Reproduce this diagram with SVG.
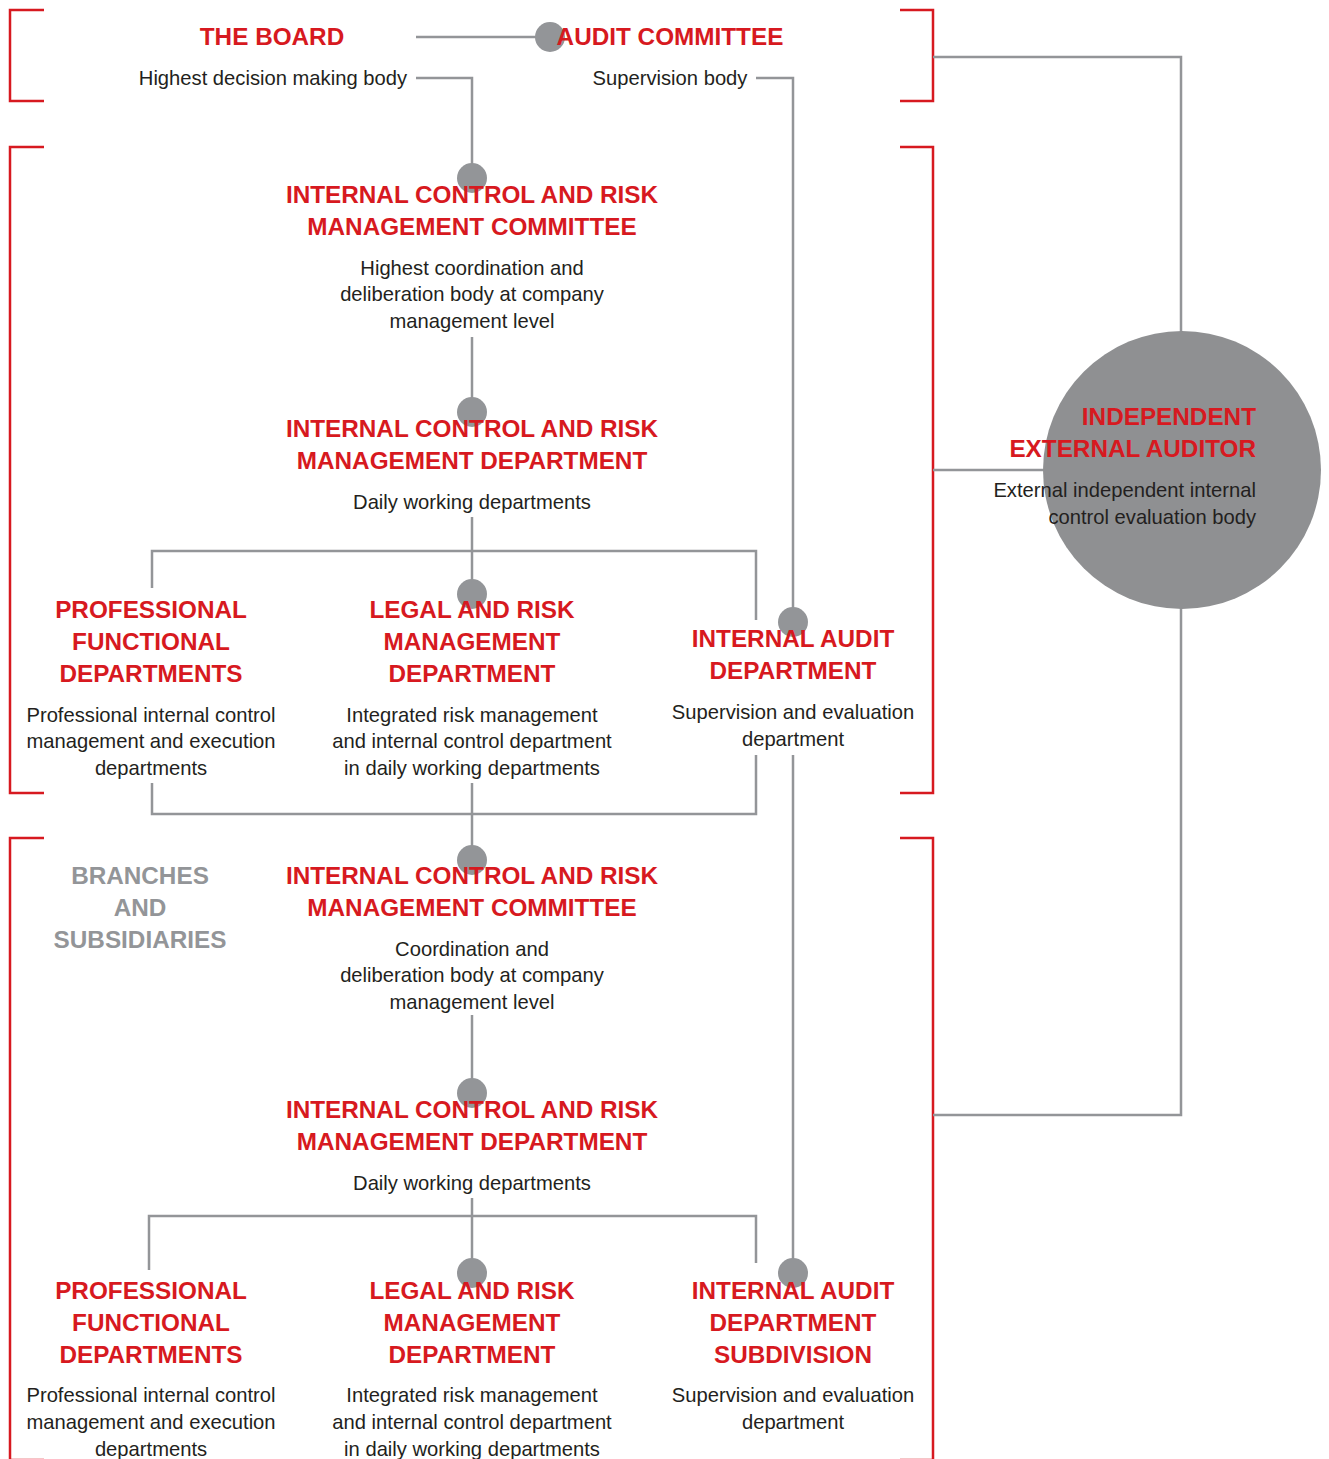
<svg xmlns="http://www.w3.org/2000/svg" width="1329" height="1459" viewBox="0 0 1329 1459">
<style>
.br{fill:none;stroke:#d71920;stroke-width:2.5}
.cn{fill:none;stroke:#939598;stroke-width:2.5}
.dot{fill:#939598}
.h{font-family:"Liberation Sans",Arial,sans-serif;font-weight:bold;font-size:24.3px;fill:#d71920;text-anchor:middle}
.g{fill:#939598}
.b{font-family:"Liberation Sans",Arial,sans-serif;font-size:20.2px;fill:#231f20;text-anchor:middle}
.e{text-anchor:end}
</style>
<rect width="1329" height="1459" fill="#fff"/>
<g id="brackets">
<path class="br" d="M44 10H10V101H44"/>
<path class="br" d="M900 10H933V101H900"/>
<path class="br" d="M44 147H10V793H44"/>
<path class="br" d="M900 147H933V793H900"/>
<path class="br" d="M44 838H10V1460H44"/>
<path class="br" d="M900 838H933V1460H900"/>
</g>
<g id="connectors">
<path class="cn" d="M416 37H540"/>
<path class="cn" d="M416 78H472V178"/>
<path class="cn" d="M756 78H793V622"/>
<path class="cn" d="M472 337V412"/>
<path class="cn" d="M472 517V594"/>
<path class="cn" d="M152 588V551H756V620"/>
<path class="cn" d="M152 783V814H756V755"/>
<path class="cn" d="M472 783V860"/>
<path class="cn" d="M793 755V1273"/>
<path class="cn" d="M472 1015V1093"/>
<path class="cn" d="M472 1198V1273"/>
<path class="cn" d="M149 1270V1216H756V1263"/>
<path class="cn" d="M933 57H1181V340"/>
<path class="cn" d="M933 470H1060"/>
<path class="cn" d="M1181 600V1115H933"/>
</g>
<g id="dots">
<circle class="dot" cx="550" cy="37" r="15"/>
<circle class="dot" cx="472" cy="178" r="15"/>
<circle class="dot" cx="472" cy="412" r="15"/>
<circle class="dot" cx="472" cy="594" r="15"/>
<circle class="dot" cx="793" cy="622" r="15"/>
<circle class="dot" cx="472" cy="860" r="15"/>
<circle class="dot" cx="472" cy="1093" r="15"/>
<circle class="dot" cx="472" cy="1273" r="15"/>
<circle class="dot" cx="793" cy="1273" r="15"/>
</g>
<g id="board">
<text class="h" x="272" y="45">THE BOARD</text>
<text class="b e" x="407" y="85">Highest decision making body</text>
</g>
<g id="audit-committee">
<text class="h" x="670" y="45">AUDIT COMMITTEE</text>
<text class="b" x="670" y="85">Supervision body</text>
</g>
<g id="icrm-committee">
<text class="h" x="472" y="203">INTERNAL CONTROL AND RISK</text>
<text class="h" x="472" y="235">MANAGEMENT COMMITTEE</text>
<text class="b" x="472" y="275">Highest coordination and</text>
<text class="b" x="472" y="301">deliberation body at company</text>
<text class="b" x="472" y="328">management level</text>
</g>
<g id="icrm-department">
<text class="h" x="472" y="437">INTERNAL CONTROL AND RISK</text>
<text class="h" x="472" y="469">MANAGEMENT DEPARTMENT</text>
<text class="b" x="472" y="509">Daily working departments</text>
</g>
<g id="professional">
<text class="h" x="151" y="618">PROFESSIONAL</text>
<text class="h" x="151" y="650">FUNCTIONAL</text>
<text class="h" x="151" y="682">DEPARTMENTS</text>
<text class="b" x="151" y="722">Professional internal control</text>
<text class="b" x="151" y="748">management and execution</text>
<text class="b" x="151" y="775">departments</text>
</g>
<g id="legal">
<text class="h" x="472" y="618">LEGAL AND RISK</text>
<text class="h" x="472" y="650">MANAGEMENT</text>
<text class="h" x="472" y="682">DEPARTMENT</text>
<text class="b" x="472" y="722">Integrated risk management</text>
<text class="b" x="472" y="748">and internal control department</text>
<text class="b" x="472" y="775">in daily working departments</text>
</g>
<g id="internal-audit">
<text class="h" x="793" y="647">INTERNAL AUDIT</text>
<text class="h" x="793" y="679">DEPARTMENT</text>
<text class="b" x="793" y="719">Supervision and evaluation</text>
<text class="b" x="793" y="746">department</text>
</g>
<g id="external-auditor">
<circle cx="1182" cy="470" r="139" fill="#8f9092"/>
<text class="h e" x="1256" y="425">INDEPENDENT</text>
<text class="h e" x="1256" y="457">EXTERNAL AUDITOR</text>
<text class="b e" x="1256" y="497">External independent internal</text>
<text class="b e" x="1256" y="524">control evaluation body</text>
</g>
<g id="branches">
<text class="h g" x="140" y="884">BRANCHES</text>
<text class="h g" x="140" y="916">AND</text>
<text class="h g" x="140" y="948">SUBSIDIARIES</text>
</g>
<g id="icrm-committee-2">
<text class="h" x="472" y="884">INTERNAL CONTROL AND RISK</text>
<text class="h" x="472" y="916">MANAGEMENT COMMITTEE</text>
<text class="b" x="472" y="956">Coordination and</text>
<text class="b" x="472" y="982">deliberation body at company</text>
<text class="b" x="472" y="1009">management level</text>
</g>
<g id="icrm-department-2">
<text class="h" x="472" y="1118">INTERNAL CONTROL AND RISK</text>
<text class="h" x="472" y="1150">MANAGEMENT DEPARTMENT</text>
<text class="b" x="472" y="1190">Daily working departments</text>
</g>
<g id="professional-2">
<text class="h" x="151" y="1299">PROFESSIONAL</text>
<text class="h" x="151" y="1331">FUNCTIONAL</text>
<text class="h" x="151" y="1363">DEPARTMENTS</text>
<text class="b" x="151" y="1402">Professional internal control</text>
<text class="b" x="151" y="1429">management and execution</text>
<text class="b" x="151" y="1456">departments</text>
</g>
<g id="legal-2">
<text class="h" x="472" y="1299">LEGAL AND RISK</text>
<text class="h" x="472" y="1331">MANAGEMENT</text>
<text class="h" x="472" y="1363">DEPARTMENT</text>
<text class="b" x="472" y="1402">Integrated risk management</text>
<text class="b" x="472" y="1429">and internal control department</text>
<text class="b" x="472" y="1456">in daily working departments</text>
</g>
<g id="internal-audit-subdivision">
<text class="h" x="793" y="1299">INTERNAL AUDIT</text>
<text class="h" x="793" y="1331">DEPARTMENT</text>
<text class="h" x="793" y="1363">SUBDIVISION</text>
<text class="b" x="793" y="1402">Supervision and evaluation</text>
<text class="b" x="793" y="1429">department</text>
</g>
</svg>
